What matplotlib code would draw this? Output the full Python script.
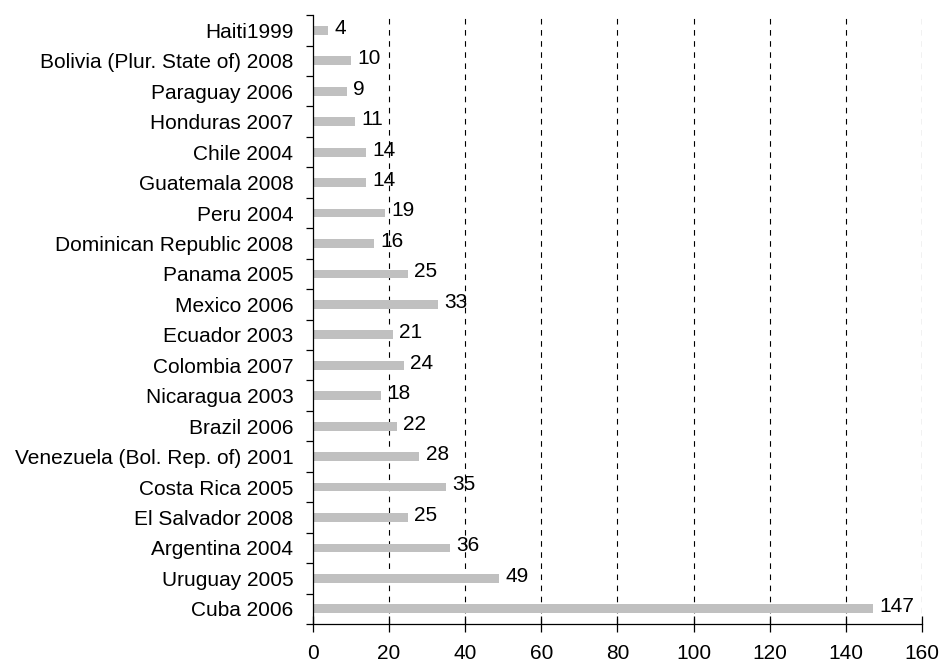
import numpy as np
import matplotlib
matplotlib.use("Agg")
import matplotlib.pyplot as plt

plt.rcParams['font.family'] = ['Liberation Sans', 'DejaVu Sans']
plt.rcParams['lines.scale_dashes'] = False

countries = ["Haiti1999", "Bolivia (Plur. State of) 2008", "Paraguay 2006",
             "Honduras 2007", "Chile 2004", "Guatemala 2008", "Peru 2004",
             "Dominican Republic 2008", "Panama 2005", "Mexico 2006",
             "Ecuador 2003", "Colombia 2007", "Nicaragua 2003", "Brazil 2006",
             "Venezuela (Bol. Rep. of) 2001", "Costa Rica 2005",
             "El Salvador 2008", "Argentina 2004", "Uruguay 2005", "Cuba 2006"]
values = [4, 10, 9, 11, 14, 14, 19, 16, 25, 33, 21, 24, 18, 22, 28, 35, 25, 36, 49, 147]
xticks = [0, 20, 40, 60, 80, 100, 120, 140, 160]

fs = 15

fig = plt.figure(figsize=(9.42, 6.64), dpi=100)
ax = fig.add_axes([0.332, 0.0602, 0.647, 0.917])

y = np.arange(len(countries))[::-1]
ax.barh(y, values, height=0.29, color='#c0c0c0', zorder=2)

for yi, v in zip(y, values):
    ax.annotate(str(v), (v, yi), xytext=(4.5, 1.5), textcoords='offset points',
                va='center', ha='left', fontsize=fs, zorder=3)

ax.set_xlim(0, 160)
ax.set_ylim(-0.5, len(countries) - 0.5)
ax.set_xticks(xticks)
ax.set_yticks(y)
ax.set_yticklabels(countries)
ax.set_yticks(np.arange(len(countries) + 1) - 0.5, minor=True)

for xv in xticks[1:]:
    ax.axvline(xv, color='black', lw=0.8, linestyle=(0, (4, 4)), zorder=1)

for s in ['top', 'right']:
    ax.spines[s].set_visible(False)
ax.spines['left'].set_linewidth(0.9)
ax.spines['bottom'].set_linewidth(0.9)

ax.tick_params(axis='y', which='major', length=0, pad=14, labelsize=fs)
ax.tick_params(axis='y', which='minor', length=5, width=0.9, direction='out')
ax.tick_params(axis='x', which='major', length=11, width=0.9, direction='inout',
               pad=9, labelsize=fs)

fig.savefig("out.png", dpi=100)
